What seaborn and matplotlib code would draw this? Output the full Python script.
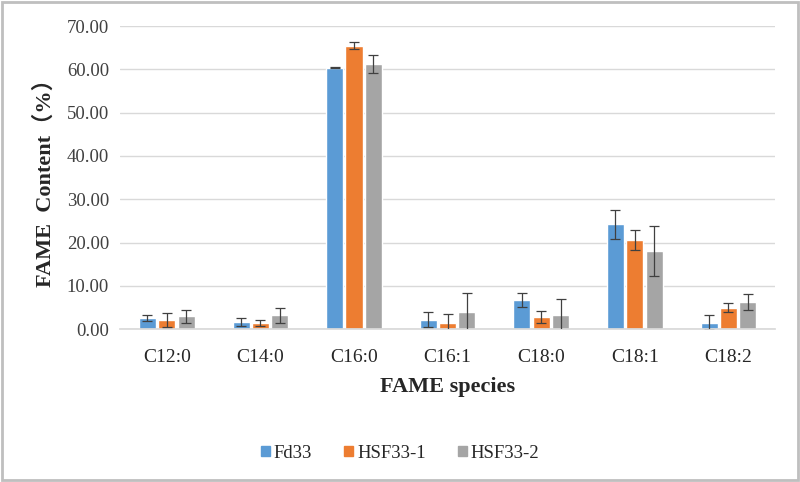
import matplotlib
matplotlib.use('Agg')
import matplotlib.pyplot as plt
import seaborn as sns
import pandas as pd
from matplotlib.patches import Rectangle

# values
species = ['C12:0', 'C14:0', 'C16:0', 'C16:1', 'C18:0', 'C18:1', 'C18:2']
strains = ['Fd33', 'HSF33-1', 'HSF33-2']
fd33 = [2.5, 1.7, 60.4, 2.2, 6.8, 24.2, 1.5]
hsf33_1 = [2.2, 1.4, 65.5, 1.5, 2.8, 20.6, 5.0]
hsf33_2 = [3.0, 3.2, 61.2, 4.0, 3.2, 18.1, 6.3]
fd33_err = [0.7, 0.9, 0.2, 1.7, 1.6, 3.3, 1.7]
hsf33_1_err = [1.6, 0.7, 0.8, 2.0, 1.4, 2.4, 1.1]
hsf33_2_err = [1.5, 1.8, 2.0, 4.4, 3.8, 5.8, 1.9]
colors = ['#5B9BD5', '#ED7D31', '#A5A5A5']

rows = []
for name, vals, errs in zip(strains, [fd33, hsf33_1, hsf33_2],
                            [fd33_err, hsf33_1_err, hsf33_2_err]):
    for sp, v, e in zip(species, vals, errs):
        rows.append({'species': sp, 'strain': name, 'value': v, 'err': e})
df = pd.DataFrame(rows)

sns.set_theme(style='white')
plt.rcParams['font.family'] = ['Liberation Serif', 'Noto Sans CJK SC', 'DejaVu Sans']

fig = plt.figure(figsize=(8, 4.82), dpi=100)
ax = fig.add_axes([0.15, 0.317, 0.819, 0.629])

sns.barplot(data=df, x='species', y='value', hue='strain', palette=colors,
            order=species, hue_order=strains, errorbar=None, saturation=1,
            width=0.62, gap=0.12, ax=ax, legend=False)

# error bars at bar centers
for cont, name in zip(ax.containers, strains):
    sub = df[df['strain'] == name].set_index('species').loc[species]
    xs = [p.get_x() + p.get_width() / 2 for p in cont.patches]
    ax.errorbar(xs, sub['value'], yerr=sub['err'], fmt='none', ecolor='#404040',
                elinewidth=0.9, capsize=3.5, capthick=0.9, zorder=3)

ax.set_ylim(0, 70)
ax.set_yticks(range(0, 71, 10))
ax.set_yticklabels([f'{t:.2f}' for t in range(0, 71, 10)], fontsize=13.5, color='#404040')
ax.set_xticks(range(len(species)))
ax.set_xticklabels(species, fontsize=14, color='#262626')
ax.yaxis.grid(True, color='#D9D9D9', linewidth=1)
ax.set_axisbelow(True)
for s in ['top', 'right', 'left']:
    ax.spines[s].set_visible(False)
ax.spines['bottom'].set_color('#D9D9D9')
ax.tick_params(axis='y', length=0, pad=8)
ax.tick_params(axis='x', length=0, pad=14)
ax.set_xlim(-0.5, 6.5)

ax.set_ylabel('FAME  Content（%）', fontsize=16, fontweight='bold', labelpad=8)
ax.set_xlabel('FAME species', fontsize=16, fontweight='bold', labelpad=8)

handles = [Rectangle((0, 0), 1, 1, color=c) for c in colors]
fig.legend(handles, strains, loc='center', bbox_to_anchor=(0.5, 0.06), ncol=3,
           frameon=False, fontsize=13.5, handlelength=0.5, handleheight=0.5,
           handletextpad=0.2, columnspacing=1.7)

# outer frame
fig.patches.append(Rectangle((0.003, 0.004), 0.994, 0.992, transform=fig.transFigure,
                             fill=False, edgecolor='#BFBFBF', linewidth=2))

fig.savefig('out.png', dpi=100)
